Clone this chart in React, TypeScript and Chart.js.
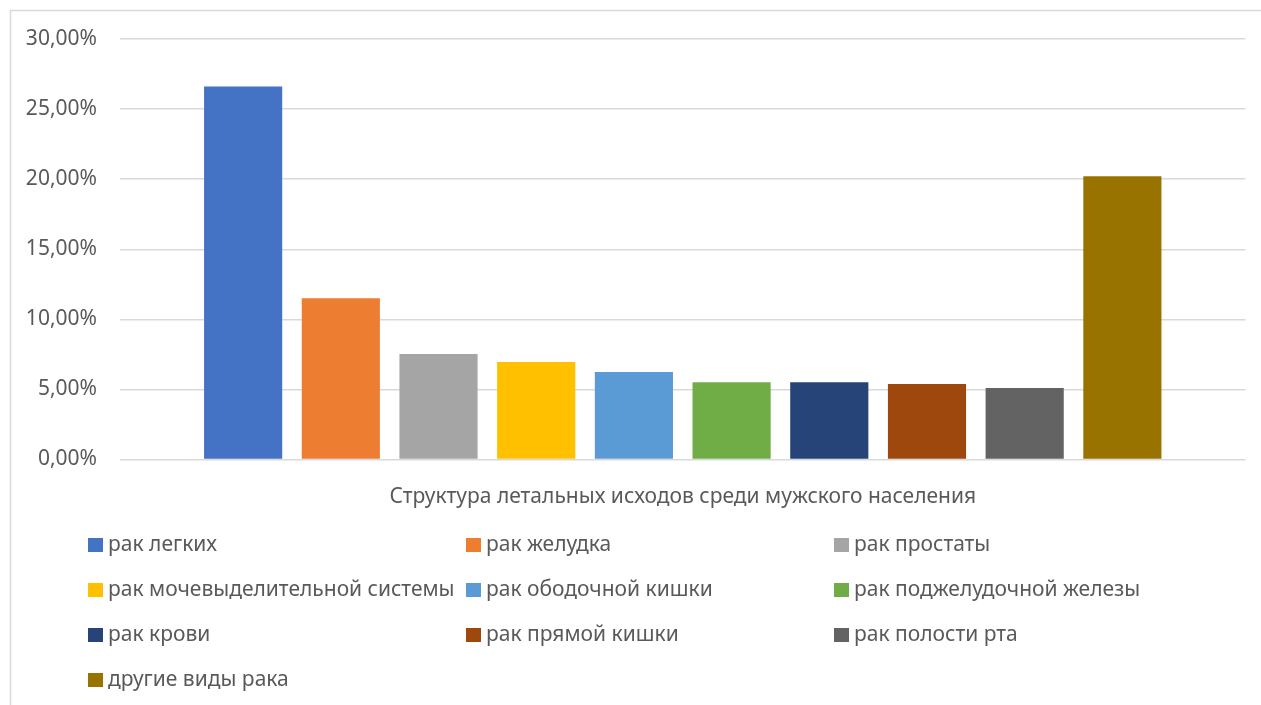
import { useEffect, useRef } from "react";
import { Chart, registerables } from "chart.js";

Chart.register(...registerables);

const categories = ["Структура летальных исходов среди мужского населения"];
const seriesNames = [
  "рак легких",
  "рак желудка",
  "рак простаты",
  "рак мочевыделительной системы",
  "рак ободочной кишки",
  "рак поджелудочной железы",
  "рак крови",
  "рак прямой кишки",
  "рак полости рта",
  "другие виды рака",
];
const seriesValues = [26.62, 11.51, 7.52, 6.95, 6.24, 5.52, 5.52, 5.38, 5.1, 20.2];
const seriesColors = [
  "#4472C4",
  "#ED7D31",
  "#A5A5A5",
  "#FFC000",
  "#5B9BD5",
  "#70AD47",
  "#264478",
  "#9E480E",
  "#636363",
  "#997300",
];
const yMin = 0;
const yMax = 30;
const yStep = 5;

const FONT = "'Noto Sans', 'DejaVu Sans', sans-serif";
const TEXT = "#595959";
const GRID = "#d9d9d9";

const framePlugin = {
  id: "frame",
  beforeDraw(chart: any) {
    const ctx = chart.ctx;
    ctx.save();
    ctx.fillStyle = "#ffffff";
    ctx.fillRect(0, 0, chart.width, chart.height);
    ctx.strokeStyle = GRID;
    ctx.lineWidth = 1.5;
    ctx.strokeRect(10.5, 10.5, chart.width + 20, chart.height + 20);
    ctx.restore();
  },
};

const gridLegendPlugin = {
  id: "gridLegend",
  afterDraw(chart: any) {
    const ctx = chart.ctx;
    const colX = [88, 466, 834];
    const rowY = [545, 590, 635, 680];
    ctx.save();
    ctx.font = `21px ${FONT}`;
    ctx.textBaseline = "middle";
    ctx.textAlign = "left";
    chart.data.datasets.forEach((ds: any, i: number) => {
      const x = colX[i % 3];
      const y = rowY[Math.floor(i / 3)];
      ctx.fillStyle = ds.backgroundColor;
      ctx.fillRect(x, y - 7, 15, 14);
      ctx.fillStyle = TEXT;
      ctx.fillText(ds.label, x + 20, y);
    });
    ctx.restore();
  },
};

export default function App() {
  const ref = useRef<HTMLCanvasElement | null>(null);

  useEffect(() => {
    if (!ref.current) return;
    const chart = new Chart(ref.current, {
      type: "bar",
      data: {
        labels: categories,
        datasets: seriesNames.map((name, i) => ({
          label: name,
          data: [seriesValues[i]],
          backgroundColor: seriesColors[i],
          borderWidth: 0,
          categoryPercentage: 0.868,
          barPercentage: 0.8,
        })),
      },
      options: {
        animation: false,
        responsive: false,
        maintainAspectRatio: false,
        layout: { padding: { left: 10, top: 39, right: 15.5, bottom: 185.5 } },
        plugins: {
          legend: { display: false },
          tooltip: { enabled: false },
          title: { display: false },
        },
        scales: {
          x: {
            grid: { display: false },
            border: { display: false },
            ticks: {
              color: TEXT,
              font: { family: FONT, size: 21 },
              padding: 17,
            },
            afterFit(scale: any) {
              scale.height = 60;
            },
          },
          y: {
            min: yMin,
            max: yMax,
            grid: { color: GRID, lineWidth: 1.5, drawTicks: false },
            border: { display: false },
            ticks: {
              stepSize: yStep,
              color: TEXT,
              font: { family: FONT, size: 21 },
              padding: 23,
              callback: (v: any) => Number(v).toFixed(2).replace(".", ",") + "%",
            },
            afterFit(scale: any) {
              scale.width = 110;
            },
          },
        },
      },
      plugins: [framePlugin, gridLegendPlugin],
    });
    return () => chart.destroy();
  }, []);

  return (
    <div style={{ position: "fixed", left: 0, top: 0, width: 1261, height: 705 }}>
      <canvas ref={ref} width={1261} height={705} style={{ display: "block" }} />
    </div>
  );
}
